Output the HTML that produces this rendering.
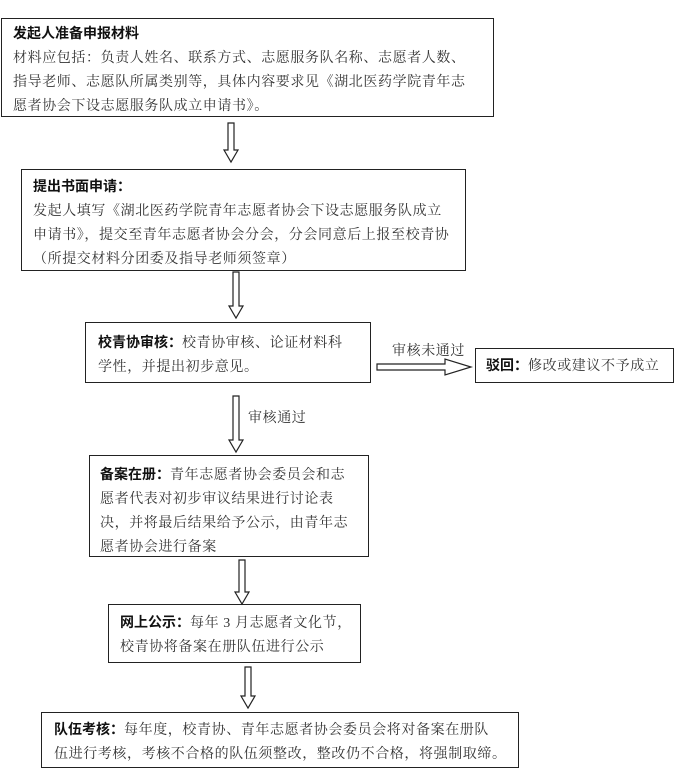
<!DOCTYPE html>
<html><head><meta charset="utf-8"><style>
body{margin:0;width:674px;height:768px;background:#fff;position:relative;overflow:hidden;font-family:"Liberation Serif","Noto Serif CJK SC",serif;font-size:14px;color:#333;}
.b{position:absolute;border:1.5px solid #222;box-sizing:border-box;line-height:24px;letter-spacing:0.6px;white-space:nowrap;}
.t{font-family:"Liberation Sans","Noto Sans CJK SC",sans-serif;font-weight:bold;color:#111;letter-spacing:0;}
.l{position:absolute;line-height:16px;letter-spacing:0.6px;}
svg{position:absolute;left:0;top:0;}
</style></head><body>
<div class="b" style="left:1px;top:18px;width:493px;height:99px;padding:2px 0 0 11px;"><span class="t">发起人准备申报材料</span><br>材料应包括：负责人姓名、联系方式、志愿服务队名称、志愿者人数、<br>指导老师、志愿队所属类别等，具体内容要求见《湖北医药学院青年志<br>愿者协会下设志愿服务队成立申请书》。</div>
<div class="b" style="left:21px;top:169px;width:445px;height:102px;padding:4px 0 0 11px;"><span class="t">提出书面申请：</span><br>发起人填写《湖北医药学院青年志愿者协会下设志愿服务队成立<br>申请书》，提交至青年志愿者协会分会，分会同意后上报至校青协<br>（所提交材料分团委及指导老师须签章）</div>
<div class="b" style="left:85px;top:322px;width:286px;height:61px;padding:7px 0 0 12px;"><span class="t">校青协审核：</span>校青协审核、论证材料科<br>学性，并提出初步意见。</div>
<div class="l" style="left:392px;top:344px;">审核未通过</div>
<div class="b" style="left:475px;top:348px;width:199px;height:35px;padding:4px 0 0 10px;"><span class="t">驳回：</span>修改或建议不予成立</div>
<div class="l" style="left:248px;top:411px;">审核通过</div>
<div class="b" style="left:89px;top:455px;width:280px;height:102px;padding:6px 0 0 10px;"><span class="t">备案在册：</span>青年志愿者协会委员会和志<br>愿者代表对初步审议结果进行讨论表<br>决，并将最后结果给予公示，由青年志<br>愿者协会进行备案</div>
<div class="b" style="left:108px;top:604px;width:253px;height:59px;padding:5px 0 0 11px;"><span class="t">网上公示：</span>每年 3 月志愿者文化节，<br>校青协将备案在册队伍进行公示</div>
<div class="b" style="left:41px;top:712px;width:478px;height:56px;padding:4px 0 0 12px;"><span class="t">队伍考核：</span>每年度，校青协、青年志愿者协会委员会将对备案在册队<br>伍进行考核，考核不合格的队伍须整改，整改仍不合格，将强制取缔。</div>
<svg width="674" height="768" fill="#fff" stroke="#222" stroke-width="1.2">
<polygon points="228,123 234,123 234,150 238,150 231,162 224,150 228,150"/>
<polygon points="233,272 239,272 239,306 243,306 236,318 229,306 233,306"/>
<polygon points="233,396 239,396 239,440 243,440 236,452 229,440 233,440"/>
<polygon points="239,560 245,560 245,592 249,592 242,604 235,592 239,592"/>
<polygon points="245,667 251,667 251,696 255,696 248,708 241,696 245,696"/>
<polygon points="377,364 445,364 445,359 471,367 445,375 445,370 377,370"/>
</svg>
</body></html>
